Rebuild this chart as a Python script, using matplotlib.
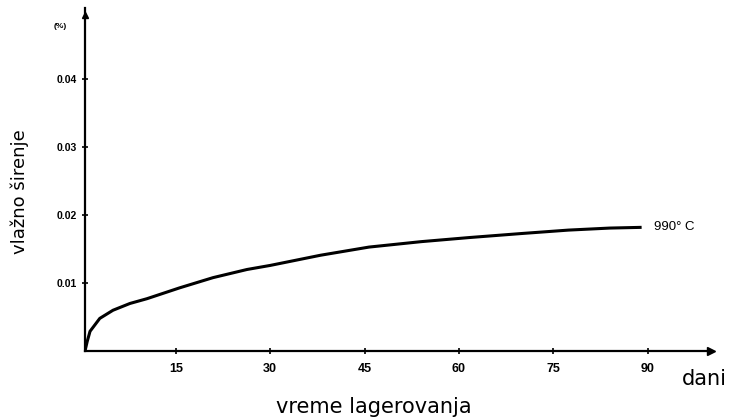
import matplotlib
matplotlib.use("Agg")
import matplotlib.pyplot as plt

# values (days, expansion in %)
days = [0.55, 0.9, 1.35, 2.9, 5.0, 7.7, 10.4, 15.6, 20.9, 26.3, 30, 38, 45.7, 54, 61.6, 70, 77.4, 84, 88.8]
expansion = [0.0, 0.0014, 0.0029, 0.0048, 0.0060, 0.0070, 0.0077, 0.0093, 0.0108,
             0.0120, 0.0126, 0.0141, 0.0153, 0.0161, 0.0167, 0.0173, 0.0178, 0.0181, 0.0182]

x_ticks = [15, 30, 45, 60, 75, 90]
y_ticks = [0.01, 0.02, 0.03, 0.04]
y_tick_labels = ["0.01", "0.02", "0.03", "0.04"]
curve_label = "990° C"

plt.rcParams['font.family'] = ['Liberation Sans', 'DejaVu Sans']

fig = plt.figure(figsize=(7.31, 4.19), dpi=100)
ax = fig.add_axes([85 / 731, 68 / 419, 640 / 731, 343 / 419])

ax.plot(days, expansion, color="black", linewidth=2.2)
ax.set_xlim(0.55, 0.55 + 640 / 6.29)
ax.set_ylim(0, 0.0505)

ax.spines["top"].set_visible(False)
ax.spines["right"].set_visible(False)
ax.spines["left"].set_linewidth(1.6)
ax.spines["bottom"].set_linewidth(1.6)
ax.spines["bottom"].set_bounds(0.55, 100)

# arrow heads at the axis ends
ax.plot(100, 0, marker=">", color="black", markersize=6, clip_on=False)
ax.plot(0.55, 0.0495, marker="^", color="black", markersize=5, clip_on=False)

ax.set_xticks(x_ticks)
ax.set_xticklabels([str(t) for t in x_ticks], fontsize=9, fontweight="bold")
ax.set_yticks(y_ticks)
ax.set_yticklabels(y_tick_labels, fontsize=7.5, fontweight="bold")
ax.tick_params(axis="both", direction="inout", length=5, width=1.2)
ax.tick_params(axis="x", pad=6)
ax.tick_params(axis="y", pad=3)

ax.text(91, 0.0182, curve_label, fontsize=9.5, va="center", ha="left")

fig.text(60 / 731, 1 - 27 / 419, "(%)", fontsize=6, fontweight="bold", ha="center", va="center")
fig.text(20 / 731, 1 - 192 / 419, "vlažno širenje", fontsize=13, rotation=90,
         ha="center", va="center", family="DejaVu Sans")
fig.text(682 / 731, 1 - 379 / 419, "dani", fontsize=15, ha="left", va="center", family="DejaVu Sans")
fig.text(374 / 731, 1 - 407 / 419, "vreme lagerovanja", fontsize=15, ha="center", va="center",
         family="DejaVu Sans")

fig.savefig("out.png", dpi=100)
